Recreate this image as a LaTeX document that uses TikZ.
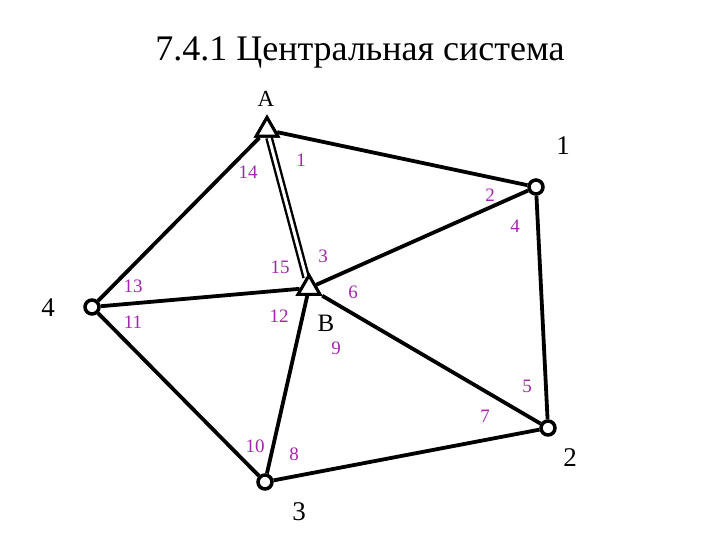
\documentclass[tikz,border=0pt]{standalone}
\usepackage{fontspec}
\setmainfont{Liberation Serif}
\usetikzlibrary{shapes.geometric}
\definecolor{lblpurple}{RGB}{160,40,170}
\tikzset{
  station/.style={circle,draw=black,fill=white,line width=3.5pt,inner sep=0pt,minimum size=14pt},
  hub/.style={regular polygon,regular polygon sides=3,draw=black,fill=white,line width=3pt,inner sep=0pt,minimum size=25pt},
  link/.style={line width=3.8pt,black},
  dlink/.style={line width=2.4pt,black,double=white,double distance=3pt},
  num/.style={text=lblpurple,font=\fontsize{19}{19}\selectfont,inner sep=0pt},
  big/.style={text=black,font=\fontsize{27}{27}\selectfont,inner sep=0pt},
}
\begin{document}
\begin{tikzpicture}[x=1pt,y=-1pt]
\useasboundingbox (0,0) rectangle (720,540);
\node[font=\fontsize{36}{36}\selectfont,inner sep=0pt] (title) at (360,52) {7.4.1 Центральная система};
% nodes
\node[hub] (A) at (267,130) {};
\node[hub] (B) at (309,288) {};
\node[station] (n1) at (536,187) {};
\node[station] (n2) at (548,428) {};
\node[station] (n3) at (265,482) {};
\node[station] (n4) at (92,307) {};
% edges
\draw[link] (A) -- (n1);
\draw[link] (n1) -- (n2);
\draw[link] (n2) -- (n3);
\draw[link] (n3) -- (n4);
\draw[link] (n4) -- (A);
\draw[link] (B) -- (n1);
\draw[link] (B) -- (n4);
\draw[link] (B) -- (n3);
\draw[link] (B) -- (n2);
\draw[dlink] (A) -- (B);
% redraw hub shapes on top
\node[hub] at (267,130) {};
\node[hub] at (309,288) {};
% labels
\node[num] (l1) at (301,160) {1};
\node[num] (l14) at (248,172) {14};
\node[num] (l2) at (490,195) {2};
\node[num] (l4) at (515,226) {4};
\node[num] (l3) at (323,256) {3};
\node[num] (l15) at (280,267) {15};
\node[num] (l13) at (133,286) {13};
\node[num] (l6) at (353,292) {6};
\node[num] (l11) at (133,322) {11};
\node[num] (l12) at (279,316) {12};
\node[num] (l9) at (336,348) {9};
\node[num] (l5) at (527,386) {5};
\node[num] (l7) at (485,416) {7};
\node[num] (l10) at (255,446) {10};
\node[num] (l8) at (294,454) {8};
\node[font=\fontsize{25}{25}\selectfont,inner sep=0pt] (lB) at (326,323) {B};
\node[font=\fontsize{23}{23}\selectfont,inner sep=0pt] (lA) at (266,99) {A};
\node[big] (b1) at (563,146) {1};
\node[big] (b4) at (48,308) {4};
\node[big] (b2) at (570,458) {2};
\node[big] (b3) at (299,512) {3};
\end{tikzpicture}
\end{document}
